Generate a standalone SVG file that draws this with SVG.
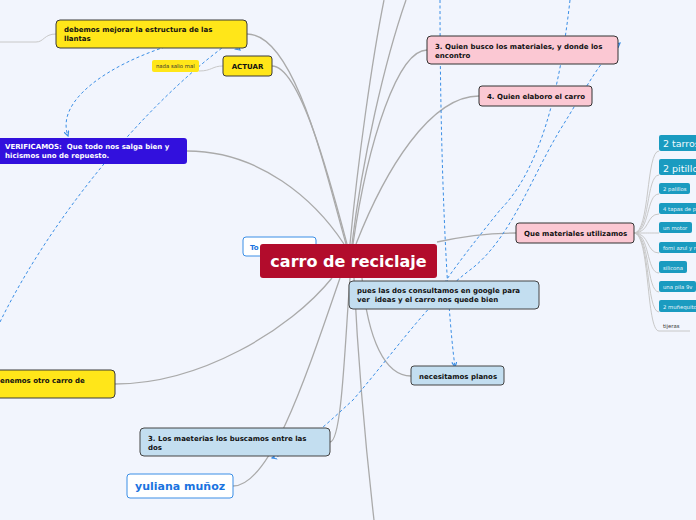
<svg xmlns="http://www.w3.org/2000/svg" width="696" height="520" viewBox="0 0 696 520">
<defs>
<style>
.t{font-family:"DejaVu Sans",Verdana,sans-serif;font-weight:bold;font-size:7px;fill:#111}
.w{fill:#fff}
.yl{fill:#ffe619;stroke:#3a3a3a;stroke-width:1}
.pk{fill:#fbc8d3;stroke:#333;stroke-width:1}
.lb{fill:#c3def0;stroke:#444;stroke-width:1}
.c{fill:none;stroke:#aaa;stroke-width:1.3}
.cs{fill:none;stroke:#c8c8c8;stroke-width:1}
.d{fill:none;stroke:#3a8ee6;stroke-width:1;stroke-dasharray:3 2.5}
.tl{fill:#1a9bc0}
.it{font-family:"DejaVu Sans",Verdana,sans-serif;font-size:5.3px;fill:#e8f6fb}
.ib{font-family:"DejaVu Sans",Verdana,sans-serif;font-size:9.5px;fill:#f2fbfe}
</style>
<marker id="ar" viewBox="0 0 6 6" refX="5" refY="3" markerWidth="6" markerHeight="6" orient="auto-start-reverse">
<path d="M0,0.5 L5,3 L0,5.5" fill="none" stroke="#3a8ee6" stroke-width="1.2"/>
</marker>
</defs>
<rect width="696" height="520" fill="#f2f5fd"/>
<g id="connectors">
<path class="c" d="M247,34 C295,34 325,170 346,244"/>
<path class="c" d="M272,66 C300,66 330,180 347,244"/>
<path class="c" d="M350,244 C358,160 372,60 384,0"/>
<path class="c" d="M352,244 C362,160 385,60 406,0"/>
<path class="c" d="M427,50 C398,50 368,140 353,244"/>
<path class="c" d="M479,96 C430,96 385,170 356,244"/>
<path class="c" d="M187,151 C260,151 315,200 344,244"/>
<path class="c" d="M115,384 C200,384 290,330 332,278"/>
<path class="c" d="M516,233 C480,233 455,238 437,242"/>
<path class="c" d="M411,376 C385,376 368,340 362,278"/>
<path class="c" d="M330,442 C342,442 345,340 350,278"/>
<path class="c" d="M233,486 C270,486 305,380 340,278"/>
<path class="c" d="M354,278 C358,360 366,450 374,520"/>
<path class="cs" d="M56,34 C44,34 44,42 36,42 L0,42"/>
<path class="cs" d="M199,71 C212,71 212,66 223,66"/>
<g id="fan">
<path class="cs" d="M634,233 C650,233 646,151 659,151"/>
<path class="cs" d="M634,233 C650,233 646,175 659,175"/>
<path class="cs" d="M634,233 C650,233 646,194 659,194"/>
<path class="cs" d="M634,233 C650,233 646,214 659,214"/>
<path class="cs" d="M634,233 C650,233 646,233 659,233"/>
<path class="cs" d="M634,233 C650,233 646,253 659,253"/>
<path class="cs" d="M634,233 C650,233 646,273 659,273"/>
<path class="cs" d="M634,233 C650,233 646,292 659,292"/>
<path class="cs" d="M634,233 C650,233 646,312 659,312"/>
<path class="cs" d="M634,233 C650,233 646,331 659,331 L690,331"/>
</g>
<path class="d" d="M165,47 C110,65 55,100 68,136" marker-end="url(#ar)"/>
<path class="d" d="M0,322 C50,220 140,110 222,48 Q232,44 240,50" marker-end="url(#ar)"/>
<path class="d" d="M440,0 C440,150 446,300 455,367" marker-end="url(#ar)"/>
<path class="d" d="M570,0 C560,90 540,170 500,210 C480,235 460,260 445,282"/>
<path class="d" d="M272,458 C300,450 320,430 353,400 C400,345 430,300 470,270 C510,240 530,180 560,130 C585,90 600,60 620,43" marker-end="url(#ar)" marker-start="url(#ar)"/>
</g>
<g id="n-debemos"><rect class="yl" x="56" y="20" width="191" height="28" rx="4"/><text class="t" x="64" y="32">debemos mejorar la estructura de las</text><text class="t" x="64" y="41">llantas</text></g>
<g id="n-l"><text class="t" x="-3" y="32" style="font-weight:normal;font-size:5.3px;fill:#333">l</text></g>
<g id="n-nada"><rect x="152" y="60" width="47" height="12" rx="2" fill="#ffe619"/><text x="156" y="68" style="font-family:'DejaVu Sans',Verdana,sans-serif;font-size:5.3px;fill:#333">nada salio mal</text></g>
<g id="n-actuar"><rect class="yl" x="223" y="56" width="49" height="20" rx="3"/><text class="t" x="247.5" y="68.5" text-anchor="middle">ACTUAR</text></g>
<g id="n-verificamos"><rect x="-5" y="138" width="192" height="26" rx="3" fill="#3210dd"/><text class="t w" x="5" y="149" xml:space="preserve">VERIFICAMOS:  Que todo nos salga bien y</text><text class="t w" x="5" y="158">hicismos uno de repuesto.</text></g>
<g id="n-enemos"><rect class="yl" x="-10" y="370" width="125" height="28" rx="4"/><text class="t" x="0" y="383">enemos otro carro de</text></g>
<g id="n-quienbusco"><rect class="pk" x="427" y="36" width="191" height="28" rx="4"/><text class="t" x="435" y="48.5">3. Quien busco los materiales, y donde los</text><text class="t" x="435" y="57.5">encontro</text></g>
<g id="n-elaboro"><rect class="pk" x="479" y="86" width="113" height="20" rx="3"/><text class="t" x="487" y="99">4. Quien elaboro el carro</text></g>
<g id="n-materiales"><rect class="pk" x="516" y="223" width="118" height="20" rx="3"/><text class="t" x="524" y="236">Que materiales utilizamos</text></g>
<g id="n-pues"><rect class="lb" x="349" y="281" width="190" height="28" rx="4"/><text class="t" x="357" y="292.5">pues las dos consultamos en google para</text><text class="t" x="357" y="302" xml:space="preserve">ver  ideas y el carro nos quede bien</text></g>
<g id="n-planos"><rect class="lb" x="411" y="366" width="93" height="19" rx="3"/><text class="t" x="419" y="378.5">necesitamos planos</text></g>
<g id="n-losmaterias"><rect class="lb" x="140" y="428" width="190" height="28" rx="4"/><text class="t" x="148" y="441">3. Los maeterias los buscamos entre las</text><text class="t" x="148" y="450">dos</text></g>
<g id="n-yuliana"><rect x="127" y="474" width="106" height="24" rx="3" fill="#fff" stroke="#3a8ee6" stroke-width="1"/><text x="135" y="490" style="font-family:'DejaVu Sans',Verdana,sans-serif;font-weight:bold;font-size:11px;fill:#1a73e0">yuliana muñoz</text></g>
<g id="n-to"><rect x="243" y="237" width="73" height="19" rx="3" fill="#fff" stroke="#3a8ee6" stroke-width="1"/><text x="250" y="250" style="font-family:'DejaVu Sans',Verdana,sans-serif;font-weight:bold;font-size:7px;fill:#1a73e0">To</text></g>
<g id="n-center"><rect x="260" y="244" width="177" height="34" rx="3" fill="#b20c2c"/><text x="348.5" y="267" text-anchor="middle" style="font-family:'DejaVu Sans',Verdana,sans-serif;font-weight:bold;font-size:16px;fill:#fff">carro de reciclaje</text></g>
<g id="n-items">
<g id="i1"><rect class="tl" x="659" y="135" width="45" height="16" rx="2"/><text class="ib" x="663" y="147">2 tarros</text></g>
<g id="i2"><rect class="tl" x="659" y="159" width="45" height="16" rx="2"/><text class="ib" x="663" y="171.5">2 pitillos</text></g>
<g id="i3"><rect class="tl" x="659" y="183" width="31" height="11" rx="2"/><text class="it" x="663" y="191">2 palillos</text></g>
<g id="i4"><rect class="tl" x="659" y="203" width="45" height="11" rx="2"/><text class="it" x="663" y="211">4 tapas de pote</text></g>
<g id="i5"><rect class="tl" x="659" y="222" width="33" height="11" rx="2"/><text class="it" x="663" y="230">un motor</text></g>
<g id="i6"><rect class="tl" x="659" y="242" width="45" height="11" rx="2"/><text class="it" x="663" y="250">fomi azul y rojo</text></g>
<g id="i7"><rect class="tl" x="659" y="261" width="28" height="12" rx="2"/><text class="it" x="663" y="269.5">silicona</text></g>
<g id="i8"><rect class="tl" x="659" y="281" width="37" height="11" rx="2"/><text class="it" x="663" y="289">una pila 9v</text></g>
<g id="i9"><rect class="tl" x="659" y="300" width="45" height="12" rx="2"/><text class="it" x="663" y="308.5">2 muñequitos</text></g>
<g id="i10"><text x="663" y="328" style="font-family:'DejaVu Sans',Verdana,sans-serif;font-size:5.3px;fill:#333">tijeras</text></g>
</g>
</svg>
